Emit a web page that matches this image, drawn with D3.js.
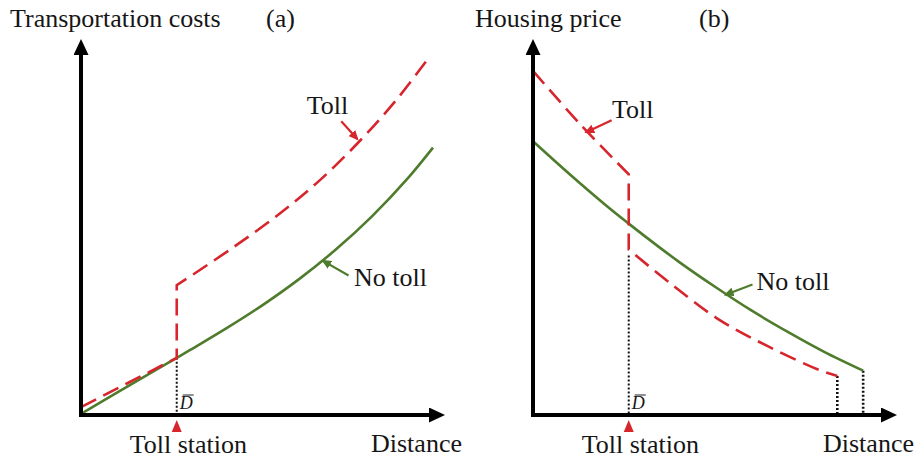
<!DOCTYPE html>
<html>
<head>
<meta charset="utf-8">
<script src="https://cdn.jsdelivr.net/npm/d3@7"></script>
<style>
  html, body { margin: 0; padding: 0; background: #fff; }
  svg { display: block; }
</style>
</head>
<body>
<svg id="chart" width="919" height="462"></svg>
<script>
// ---- Panel (a): transportation costs along distance ----
const tollStation = 26.3;

const costDistance = [0, 10, 20, 26.3, 30, 40, 50, 60, 70, 80, 90, 96.7];
const costNoToll   = [0.3, 6.0, 11.7, 15.2, 17.3, 23.1, 29.3, 36.2, 44.0, 52.9, 63.2, 71.1];

const costTollBeforeDistance = [0, 26.3];
const costTollBefore         = [2.1, 15.2];
const costTollAfterDistance  = [26.3, 41.1, 54.8, 65.8, 76.7, 86.8, 95.9];
const costTollAfter          = [34.5, 44.1, 53.7, 62.6, 73.0, 84.0, 95.5];

// ---- Panel (b): housing price along distance ----
const priceDistance = [0, 10, 20, 26.3, 30, 40, 50, 60, 70, 80, 90.7];
const priceNoToll   = [72.8, 64.1, 55.8, 50.9, 48.1, 40.8, 34.1, 27.8, 22.1, 16.8, 11.8];

const priceTollBeforeDistance = [0, 13, 26.3];
const priceTollBefore         = [91.5, 77.3, 64.0];
const priceTollAfterDistance  = [26.3, 37.5, 51.2, 64.9, 78.6, 83.6];
const priceTollAfter          = [44.0, 35.2, 25.3, 18.1, 12.0, 10.4];

const panelTitles = ["Transportation costs", "Housing price"];
const panelTags   = ["(a)", "(b)"];
const xAxisLabel  = "Distance";
const stationLabel = "Toll station";
const seriesLabels = ["Toll", "No toll"];

const RED = "#d6252c";
const GREEN = "#4f7c2c";
const SERIF = "'Liberation Serif', 'Times New Roman', Tinos, 'DejaVu Serif', serif";
const FS = 26;

const svg = d3.select("#chart").attr("font-family", SERIF);
const defs = svg.append("defs");

// axis arrowhead
defs.append("marker")
  .attr("id", "axisHead")
  .attr("markerUnits", "userSpaceOnUse")
  .attr("markerWidth", 17).attr("markerHeight", 15)
  .attr("refX", 2).attr("refY", 7.5)
  .attr("orient", "auto")
  .append("path").attr("d", "M0,0 L16,7.5 L0,15 Z").attr("fill", "#000");

// small arrowheads for the curve labels
[["headRed", RED], ["headGreen", GREEN]].forEach(([id, c]) => {
  defs.append("marker")
    .attr("id", id)
    .attr("markerUnits", "userSpaceOnUse")
    .attr("markerWidth", 10).attr("markerHeight", 9)
    .attr("refX", 8).attr("refY", 4.5)
    .attr("orient", "auto")
    .append("path").attr("d", "M0,0 L10,4.5 L0,9 Z").attr("fill", c);
});

const y = d3.scaleLinear().domain([0, 100]).range([415, 39]);
const xA = d3.scaleLinear().domain([0, 100]).range([81, 445]);
const xB = d3.scaleLinear().domain([0, 100]).range([533, 897]);

const pairs = (xs, ys) => xs.map((d, i) => [d, ys[i]]);

function addText(g, x, yPos, str, size, extra) {
  const t = g.append("text")
    .attr("x", x).attr("y", yPos)
    .attr("font-family", SERIF)
    .attr("font-size", size)
    .attr("fill", "#161616")
    .text(str);
  if (extra) extra(t);
  return t;
}

function drawPanel(cfg) {
  const { x, title, tag, titleX, tagX, noToll, tollBefore, tollAfter, dotted, labels } = cfg;
  const g = svg.append("g");
  const line = d3.line().x(d => x(d[0])).y(d => y(d[1])).curve(d3.curveCatmullRom.alpha(0.5));

  // guide lines (dotted)
  dotted.forEach(([d, top, w]) => {
    g.append("line")
      .attr("x1", x(d)).attr("x2", x(d))
      .attr("y1", y(top)).attr("y2", y(0) - 2)
      .attr("stroke", "#111").attr("stroke-width", w)
      .attr("stroke-dasharray", "2,2");
  });

  // no-toll curve
  g.append("path")
    .attr("d", line(noToll))
    .attr("fill", "none").attr("stroke", GREEN).attr("stroke-width", 2.6);

  // toll curve with the jump at the toll station
  const pre = line(tollBefore);
  const post = line(tollAfter);
  g.append("path")
    .attr("d", pre + "L" + post.slice(1))
    .attr("fill", "none").attr("stroke", RED).attr("stroke-width", 2.6)
    .attr("stroke-dasharray", "17,8").attr("stroke-linejoin", "miter");

  // axes
  g.append("line")
    .attr("x1", x(0) - 2).attr("x2", x(100) - 14)
    .attr("y1", y(0)).attr("y2", y(0))
    .attr("stroke", "#000").attr("stroke-width", 4)
    .attr("marker-end", "url(#axisHead)");
  g.append("line")
    .attr("x1", x(0)).attr("x2", x(0))
    .attr("y1", y(0) + 2).attr("y2", y(100) + 14)
    .attr("stroke", "#000").attr("stroke-width", 4)
    .attr("marker-end", "url(#axisHead)");

  // toll station marker
  const sx = x(tollStation);
  g.append("path")
    .attr("d", `M${sx},${y(0) + 5} L${sx - 5},${y(0) + 17} L${sx + 5},${y(0) + 17} Z`)
    .attr("fill", RED);

  // D-bar label
  addText(g, sx + 3, y(0) - 6, "D", 18, t => t.attr("font-style", "italic"));
  g.append("line")
    .attr("x1", sx + 6).attr("x2", sx + 17)
    .attr("y1", y(0) - 20).attr("y2", y(0) - 20)
    .attr("stroke", "#222").attr("stroke-width", 1);

  // text
  addText(g, titleX, 27, title, FS);
  addText(g, tagX, 27, tag, FS);
  addText(g, x(100) - 74, 452, xAxisLabel, FS);
  addText(g, sx - 47, 453, stationLabel, FS);

  // curve labels with pointers
  labels.forEach(l => {
    g.append("line")
      .attr("x1", x(l.from[0])).attr("y1", y(l.from[1]))
      .attr("x2", x(l.to[0])).attr("y2", y(l.to[1]))
      .attr("stroke", l.color).attr("stroke-width", 2.2)
      .attr("marker-end", `url(#${l.color === RED ? "headRed" : "headGreen"})`);
    addText(g, x(l.at[0]), y(l.at[1]), l.text, FS);
  });
}

drawPanel({
  x: xA,
  title: panelTitles[0], tag: panelTags[0], titleX: 10, tagX: 266,
  noToll: pairs(costDistance, costNoToll),
  tollBefore: pairs(costTollBeforeDistance, costTollBefore),
  tollAfter: pairs(costTollAfterDistance, costTollAfter),
  dotted: [[tollStation, 15.2, 2]],
  labels: [
    { text: seriesLabels[0], color: RED,   at: [62, 80],  from: [71.5, 78.1], to: [75.9, 73.4] },
    { text: seriesLabels[1], color: GREEN, at: [75, 34.2], from: [73.5, 37.1], to: [66.5, 41.0] }
  ]
});

drawPanel({
  x: xB,
  title: panelTitles[1], tag: panelTags[1], titleX: 475, tagX: 699,
  noToll: pairs(priceDistance, priceNoToll),
  tollBefore: pairs(priceTollBeforeDistance, priceTollBefore),
  tollAfter: pairs(priceTollAfterDistance, priceTollAfter),
  dotted: [[tollStation, 42.4, 2], [83.6, 10.4, 2.6], [90.7, 11.8, 2.6]],
  labels: [
    { text: seriesLabels[0], color: RED,   at: [21.7, 79], from: [21.6, 78.4], to: [14.6, 75.2] },
    { text: seriesLabels[1], color: GREEN, at: [61.4, 33.3], from: [60.3, 34.7], to: [52.9, 32.0] }
  ]
});
</script>
</body>
</html>
